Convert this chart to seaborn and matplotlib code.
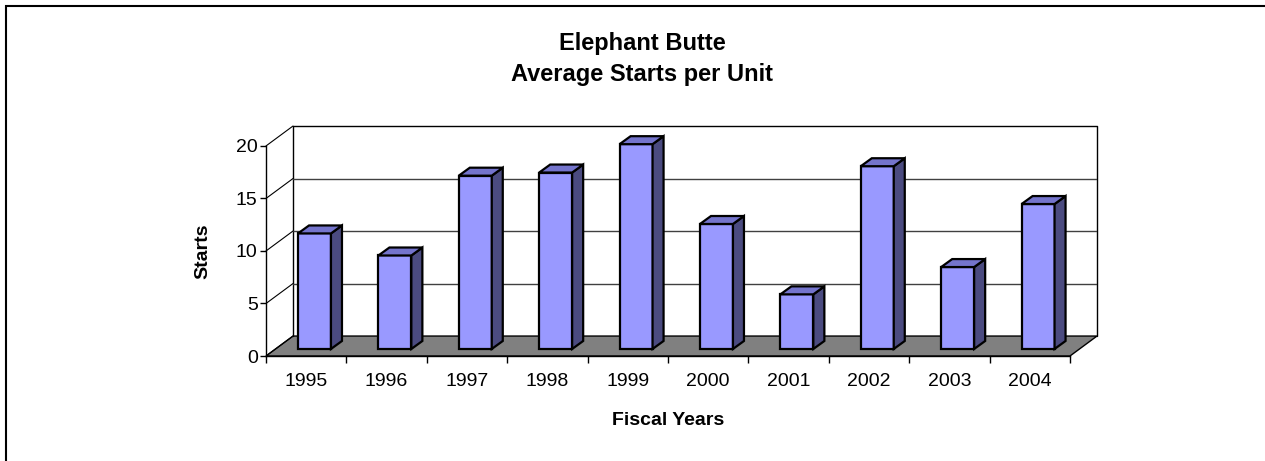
import numpy as np
import matplotlib
matplotlib.use("Agg")
import matplotlib.pyplot as plt
from matplotlib.patches import Polygon, Rectangle
import seaborn as sns

# data
years = ['1995', '1996', '1997', '1998', '1999', '2000', '2001', '2002', '2003', '2004']
starts = [11.0, 8.9, 16.5, 16.8, 19.5, 11.9, 5.2, 17.4, 7.8, 13.8]
y_ticks = [0, 5, 10, 15, 20]

# fake 3d look (data units)
depth_x, depth_y = 0.336, 1.9      # floor / wall depth
bar_sx, bar_sy = 0.103, 0.67       # bar front offset inside the floor
bar_dx, bar_dy = 0.137, 0.76       # bar depth
front_col = '#9999FF'
side_col = '#4B4B80'
top_col = '#7474CC'

sns.set_style("white")
plt.rcParams['font.family'] = ['Liberation Sans', 'DejaVu Sans']
plt.rcParams['text.color'] = 'black'
plt.rcParams['xtick.color'] = 'black'
plt.rcParams['ytick.color'] = 'black'
plt.rcParams['axes.labelcolor'] = 'black'

fig = plt.figure(figsize=(12.65, 4.61), dpi=100)
ax = fig.add_axes([266 / 1265, 1 - 356 / 461, 831 / 1265, 230 / 461])

sns.barplot(x=years, y=starts, color=front_col, saturation=1, width=0.41,
            edgecolor='black', linewidth=1.6, ax=ax, zorder=3)

n = len(years)
x0, x1 = -0.5, n - 0.5
ax.set_xlim(x0, x1 + depth_x)
ax.set_ylim(0, y_ticks[-1] + depth_y)

# floor
floor = Polygon([(x0, 0), (x1, 0), (x1 + depth_x, depth_y), (x0 + depth_x, depth_y)],
                closed=True, facecolor='#808080', edgecolor='black', lw=1, zorder=1)
ax.add_patch(floor)

# back wall outline and gridlines
top = y_ticks[-1] + depth_y
ax.plot([x0 + depth_x, x0 + depth_x, x1 + depth_x, x1 + depth_x],
        [depth_y, top, top, depth_y], color='black', lw=1, zorder=1, clip_on=False)
for t in y_ticks[1:-1]:
    ax.plot([x0 + depth_x, x1 + depth_x], [t + depth_y, t + depth_y],
            color='#404040', lw=1, zorder=1)
for t in y_ticks:
    ax.plot([x0, x0 + depth_x], [t, t + depth_y], color='black', lw=0.8, zorder=1,
            clip_on=False)

# bars: shift front faces, add side and top faces
for p, v in zip(ax.patches, starts):
    if isinstance(p, Polygon):
        continue
    p.set_x(p.get_x() + bar_sx)
    p.set_y(bar_sy)
    bx0 = p.get_x()
    bx1 = bx0 + p.get_width()
    yb, yt = bar_sy, bar_sy + v
    side = Polygon([(bx1, yb), (bx1 + bar_dx, yb + bar_dy), (bx1 + bar_dx, yt + bar_dy), (bx1, yt)],
                   closed=True, facecolor=side_col, edgecolor='black', lw=1.6, zorder=3)
    topf = Polygon([(bx0, yt), (bx1, yt), (bx1 + bar_dx, yt + bar_dy), (bx0 + bar_dx, yt + bar_dy)],
                   closed=True, facecolor=top_col, edgecolor='black', lw=1.6, zorder=3)
    ax.add_patch(side)
    ax.add_patch(topf)

# axes, ticks
for s in ['top', 'right']:
    ax.spines[s].set_visible(False)
ax.spines['left'].set_bounds(0, y_ticks[-1])
ax.spines['bottom'].set_bounds(x0, x1)
for s in ['left', 'bottom']:
    ax.spines[s].set_color('black')
    ax.spines[s].set_linewidth(1)
ax.set_yticks(y_ticks)
ax.set_yticklabels([str(t) for t in y_ticks], fontsize=14)
ax.tick_params(axis='y', length=4, width=1, pad=2, direction='out', left=True)
ax.set_xticks(range(n))
ax.set_xticklabels(years, fontsize=14)
ax.set_xticks(np.arange(x0, x1 + 0.01, 1), minor=True)
ax.tick_params(axis='x', which='major', length=0, pad=12)
ax.tick_params(axis='x', which='minor', length=5, width=1, direction='out', bottom=True)
ax.set_xlabel('')
ax.set_ylabel('')
ax.patch.set_alpha(0)

fig.text(203 / 1265, 1 - 251 / 461, 'Starts', rotation=90, fontsize=14, fontweight='bold',
         ha='center', va='center')
fig.text(668 / 1265, 1 - 420 / 461, 'Fiscal Years', fontsize=14, fontweight='bold',
         ha='center', va='center')
fig.text(642 / 1265, 1 - 59 / 461, 'Elephant Butte\nAverage Starts per Unit', fontsize=17,
         fontweight='bold', ha='center', va='center', linespacing=1.45)

# chart area border (cut by the image edge on right and bottom)
fig.patches.append(Rectangle((6 / 1265, -0.1), 1.2, 1.1 - 6 / 461, transform=fig.transFigure,
                             fill=False, edgecolor='black', lw=1.5))

fig.savefig('out.png', dpi=100)
